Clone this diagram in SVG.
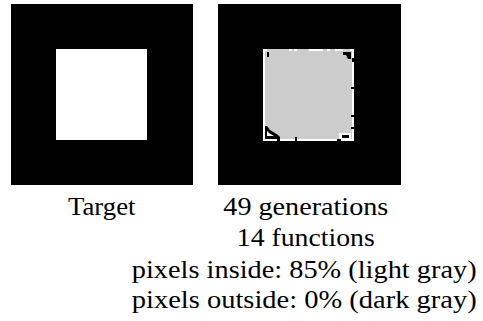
<svg xmlns="http://www.w3.org/2000/svg" width="483" height="321" viewBox="0 0 483 321">
<style>
.k{fill:#000}.w{fill:#fff}.g{fill:#cccccc}
text{font-family:"Liberation Serif","Times New Roman",serif;font-size:25px;fill:#000;text-anchor:middle}
</style>
<rect width="483" height="321" fill="#fff"/>
<g id="target">
<rect class="k" x="11" y="4" width="182" height="181"/>
<rect class="w" x="56" y="49" width="91" height="91"/>
</g>
<g id="result">
<rect class="k" x="218" y="4" width="183" height="181"/>
<rect class="w" x="263" y="49" width="91" height="92"/>
<rect class="g" x="265" y="51" width="87" height="88"/>
<rect class="g" x="267" y="49" width="22" height="2"/>
<rect class="g" x="292" y="49" width="2" height="2"/>
<rect class="g" x="297" y="49" width="12" height="2"/>
<rect class="g" x="323" y="49" width="4" height="2"/>
<rect class="g" x="330" y="49" width="5" height="2"/>
<rect class="g" x="343" y="49" width="7" height="2"/>
<rect class="k" x="267" y="52" width="2" height="5"/>
<polygon class="k" points="343,52 351,52 351,59 348,59 346,55 343,55"/>
<rect class="k" x="352" y="58" width="2" height="4"/>
<rect class="k" x="351" y="87" width="3" height="2"/>
<rect class="k" x="351" y="115" width="3" height="2"/>
<rect class="k" x="351" y="127" width="3" height="2"/>
<polygon class="k" points="265,126 267,126 270,130 275,133 278,135 280,137 280,139 265,139"/>
<polygon class="w" points="267,131 269,133 274,136 267,136"/>
<rect class="k" x="277" y="139" width="3" height="2"/>
<rect class="k" x="295" y="137" width="2" height="4"/>
<rect class="w" x="339" y="133" width="12" height="6"/>
<rect class="k" x="342" y="135" width="7" height="3"/>
<rect class="k" x="337" y="139" width="4" height="2"/>
</g>
<g id="labels">
<text transform="translate(101.7,215) scale(1.073,1)">Target</text>
<text transform="translate(305.8,215) scale(1.126,1)">49 generations</text>
<text transform="translate(305.8,246) scale(1.11,1)">14 functions</text>
<text transform="translate(304.2,278) scale(1.134,1)">pixels inside: 85% (light gray)</text>
<text transform="translate(304.2,308) scale(1.14,1)">pixels outside: 0% (dark gray)</text>
</g>
</svg>
